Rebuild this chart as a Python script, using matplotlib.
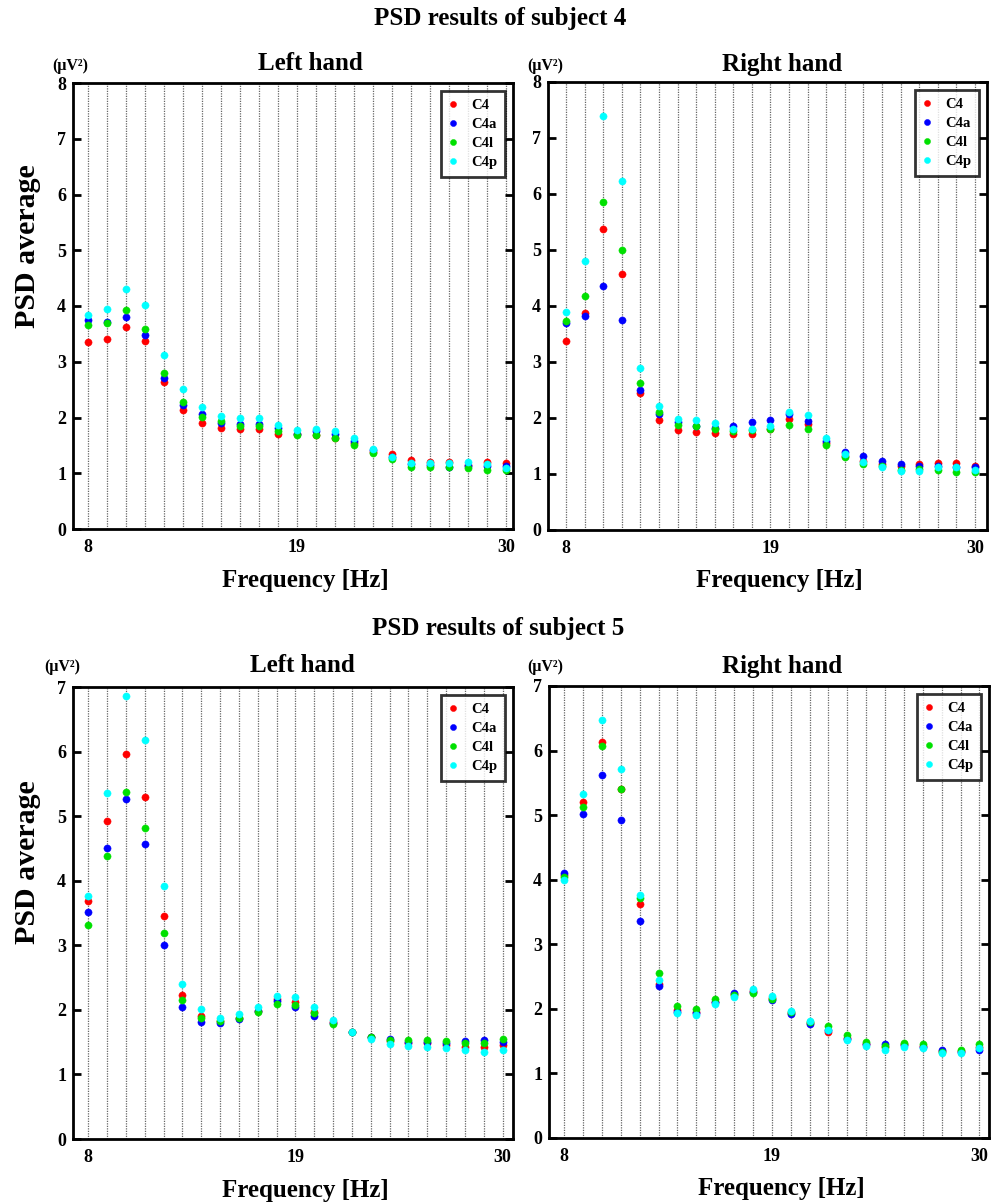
import matplotlib
matplotlib.use("Agg")
import matplotlib.pyplot as plt
import numpy as np

plt.rcParams['font.family'] = ['Liberation Serif', 'DejaVu Serif']
plt.rcParams['font.weight'] = 'bold'

freqs = list(range(8, 31))
channels = ["C4", "C4a", "C4l", "C4p"]
colors = ["#ff0000", "#0000ff", "#00e000", "#00ffff"]

# Subject 4, left hand
s4_left_C4 = [3.35, 3.41, 3.63, 3.37, 2.63, 2.13, 1.91, 1.82, 1.79, 1.79, 1.70, 1.70, 1.69, 1.63, 1.54, 1.39, 1.35, 1.24, 1.21, 1.21, 1.15, 1.21, 1.19]
s4_left_C4a = [3.74, 3.72, 3.80, 3.48, 2.71, 2.22, 2.06, 1.90, 1.88, 1.88, 1.81, 1.71, 1.75, 1.70, 1.58, 1.42, 1.29, 1.17, 1.15, 1.12, 1.13, 1.13, 1.13]
s4_left_C4l = [3.66, 3.69, 3.93, 3.58, 2.79, 2.27, 2.01, 1.93, 1.84, 1.84, 1.76, 1.69, 1.69, 1.63, 1.51, 1.36, 1.25, 1.12, 1.12, 1.12, 1.09, 1.06, 1.05]
s4_left_C4p = [3.83, 3.95, 4.31, 4.02, 3.12, 2.51, 2.18, 2.03, 2.00, 2.00, 1.87, 1.78, 1.79, 1.76, 1.63, 1.44, 1.30, 1.18, 1.18, 1.18, 1.20, 1.17, 1.10]

# Subject 4, right hand
s4_right_C4 = [3.38, 3.88, 5.37, 4.57, 2.44, 1.97, 1.78, 1.75, 1.73, 1.71, 1.72, 1.81, 1.99, 1.89, 1.56, 1.33, 1.24, 1.18, 1.15, 1.18, 1.19, 1.19, 1.15]
s4_right_C4a = [3.70, 3.82, 4.36, 3.75, 2.50, 2.07, 1.92, 1.86, 1.83, 1.86, 1.92, 1.97, 2.07, 1.94, 1.59, 1.40, 1.32, 1.24, 1.18, 1.15, 1.15, 1.12, 1.12]
s4_right_C4l = [3.74, 4.17, 5.86, 5.00, 2.63, 2.10, 1.88, 1.86, 1.80, 1.77, 1.78, 1.80, 1.87, 1.80, 1.51, 1.30, 1.18, 1.15, 1.08, 1.09, 1.08, 1.04, 1.03]
s4_right_C4p = [3.89, 4.81, 7.39, 6.23, 2.90, 2.21, 1.98, 1.97, 1.91, 1.81, 1.80, 1.86, 2.11, 2.05, 1.65, 1.36, 1.21, 1.13, 1.06, 1.06, 1.12, 1.12, 1.08]

# Subject 5, left hand
s5_left_C4 = [3.69, 4.92, 5.97, 5.30, 3.46, 2.23, 1.91, 1.83, 1.88, 1.99, 2.17, 2.12, 1.96, 1.81, 1.65, 1.58, 1.51, 1.48, 1.48, 1.46, 1.43, 1.43, 1.45]
s5_left_C4a = [3.51, 4.50, 5.27, 4.57, 3.00, 2.04, 1.81, 1.80, 1.86, 1.98, 2.13, 2.04, 1.91, 1.79, 1.65, 1.58, 1.55, 1.50, 1.50, 1.48, 1.51, 1.54, 1.50]
s5_left_C4l = [3.32, 4.38, 5.37, 4.81, 3.19, 2.15, 1.87, 1.82, 1.88, 1.97, 2.09, 2.08, 1.95, 1.78, 1.65, 1.58, 1.53, 1.53, 1.53, 1.51, 1.49, 1.48, 1.55]
s5_left_C4p = [3.76, 5.36, 6.86, 6.18, 3.92, 2.40, 2.01, 1.88, 1.94, 2.05, 2.21, 2.20, 2.04, 1.85, 1.65, 1.55, 1.47, 1.44, 1.43, 1.41, 1.38, 1.34, 1.38]

# Subject 5, right hand
s5_right_C4 = [4.07, 5.20, 6.14, 5.41, 3.62, 2.39, 1.99, 1.95, 2.11, 2.23, 2.28, 2.17, 1.93, 1.78, 1.64, 1.55, 1.45, 1.41, 1.45, 1.43, 1.35, 1.34, 1.41]
s5_right_C4a = [4.11, 5.01, 5.62, 4.92, 3.36, 2.36, 1.95, 1.93, 2.11, 2.25, 2.26, 2.14, 1.92, 1.76, 1.67, 1.54, 1.45, 1.46, 1.44, 1.41, 1.37, 1.33, 1.36]
s5_right_C4l = [4.04, 5.13, 6.07, 5.40, 3.71, 2.56, 2.04, 2.00, 2.16, 2.21, 2.25, 2.15, 1.95, 1.80, 1.73, 1.60, 1.48, 1.43, 1.47, 1.45, 1.33, 1.37, 1.45]
s5_right_C4p = [3.99, 5.32, 6.48, 5.72, 3.77, 2.44, 1.93, 1.91, 2.07, 2.18, 2.30, 2.20, 1.97, 1.81, 1.68, 1.51, 1.43, 1.37, 1.41, 1.39, 1.31, 1.32, 1.40]

suptitles = ["PSD results of subject 4", "PSD results of subject 5"]
panel_titles = ["Left hand", "Right hand"]
xtick_vals = [8, 19, 30]

W, H = 1003, 1203
fig = plt.figure(figsize=(W / 100, H / 100), dpi=100)

def fx(px):
    return px / W

def fy(py):
    return 1 - py / H

panels = [
    dict(data=[s4_left_C4, s4_left_C4a, s4_left_C4l, s4_left_C4p], box=(73, 83, 513, 529),
         xlim=(7.23, 30.35), ymax=8, title=panel_titles[0], tx=310, ty=64, ux=70, uy=66),
    dict(data=[s4_right_C4, s4_right_C4a, s4_right_C4l, s4_right_C4p], box=(548, 82, 987, 530),
         xlim=(7.03, 30.65), ymax=8, title=panel_titles[1], tx=782, ty=64, ux=545, uy=66),
    dict(data=[s5_left_C4, s5_left_C4a, s5_left_C4l, s5_left_C4p], box=(73, 687, 513, 1139),
         xlim=(7.19, 30.55), ymax=7, title=panel_titles[0], tx=302, ty=666, ux=62, uy=667),
    dict(data=[s5_right_C4, s5_right_C4a, s5_right_C4l, s5_right_C4p], box=(549, 686, 989, 1138),
         xlim=(7.19, 30.51), ymax=7, title=panel_titles[1], tx=782, ty=666, ux=545, uy=667),
]

for p in panels:
    x0, y0, x1, y1 = p['box']
    ax = fig.add_axes([fx(x0), fy(y1), fx(x1 - x0), (y1 - y0) / H])
    for f in freqs:
        ax.axvline(f, color='#666666', lw=0.9, ls=(0, (1, 1)), zorder=1)
    for vals, name, c in zip(p['data'], channels, colors):
        ax.plot(freqs, vals, ls='none', marker='o', ms=5.2, mfc=c, mec=c, mew=0.3,
                label=name, zorder=3)
    ax.set_xlim(*p['xlim'])
    ax.set_ylim(0, p['ymax'])
    ax.set_xticks(xtick_vals)
    ax.set_yticks(range(0, p['ymax'] + 1))
    ax.tick_params(axis='x', length=0, pad=7, labelsize=13)
    ax.tick_params(axis='y', direction='in', length=6, width=2, right=True,
                   labelsize=13, pad=5)
    for lab in ax.get_xticklabels() + ax.get_yticklabels():
        lab.set_fontweight('bold')
    for s in ax.spines.values():
        s.set_linewidth(2)
    leg = ax.legend(loc='upper right', fontsize=10.5, frameon=True, fancybox=False,
                    handlelength=0.6, handletextpad=0.9, labelspacing=0.4,
                    borderpad=0.55, markerscale=0.85, borderaxespad=0.55)
    leg.get_frame().set_edgecolor('black')
    leg.get_frame().set_linewidth(2)
    for t in leg.get_texts():
        t.set_fontweight('bold')
    fig.text(fx(p['tx']), fy(p['ty']), p['title'], ha='center', va='center',
             fontsize=18, fontweight='bold')
    fig.text(fx(p['ux']), fy(p['uy']), "(μV²)", ha='center', va='center',
             fontsize=11.5, fontweight='bold')
    fig.text(fx((x0 + x1) / 2 + 12), fy(y1 + 51), "Frequency [Hz]", ha='center',
             va='center', fontsize=18, fontweight='bold')

fig.text(fx(500), fy(18), suptitles[0], ha='center', va='center', fontsize=18, fontweight='bold')
fig.text(fx(498), fy(628), suptitles[1], ha='center', va='center', fontsize=18, fontweight='bold')
fig.text(fx(28), fy(246), "PSD average", ha='center', va='center', rotation=90,
         fontsize=21.5, fontweight='bold')
fig.text(fx(28), fy(862), "PSD average", ha='center', va='center', rotation=90,
         fontsize=21.5, fontweight='bold')

fig.savefig("out.png", dpi=100)
